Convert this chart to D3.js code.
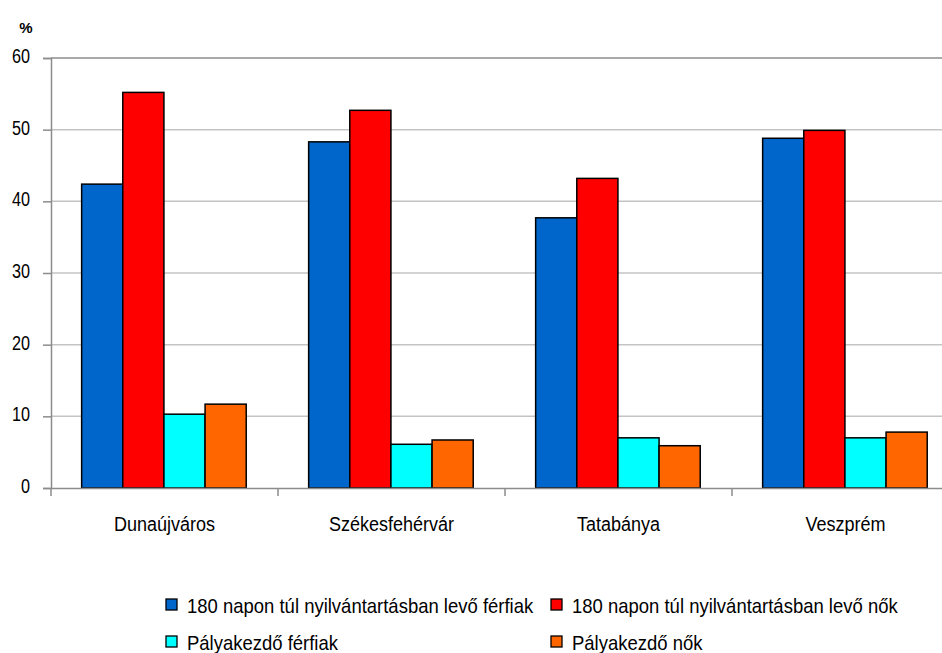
<!DOCTYPE html>
<html><head><meta charset="utf-8">
<script src="https://cdn.jsdelivr.net/npm/d3@7"></script>
<style>body{margin:0;background:#fff}svg{display:block}text{font-family:"Liberation Sans",Arial,sans-serif;fill:#000}</style>
</head><body><svg id="c" width="942" height="653"></svg>
<script>
const categories = ["Dunaújváros", "Székesfehérvár", "Tatabánya", "Veszprém"];
const seriesNames = ["180 napon túl nyilvántartásban levő férfiak", "180 napon túl nyilvántartásban levő nők", "Pályakezdő férfiak", "Pályakezdő nők"];
const longMen   = [42.4, 48.3, 37.7, 48.8];
const longWomen = [55.2, 52.7, 43.2, 49.9];
const newMen    = [10.3, 6.1, 7.0, 7.0];
const newWomen  = [11.7, 6.7, 5.9, 7.8];
const yTicks = [0, 10, 20, 30, 40, 50, 60];
const colors = ["#0066CC", "#FF0000", "#00FFFF", "#FF6600"];
const seriesValues = [longMen, longWomen, newMen, newWomen];

const svg = d3.select("#c");
const L = 51, R = 959, T = 58, B = 488;
const x = d3.scaleBand().domain(categories).range([L, R]).paddingInner(0).paddingOuter(0);
const x1 = d3.scaleBand().domain(d3.range(4)).range([x.bandwidth()*0.135, x.bandwidth()*0.86]);
const y = d3.scaleLinear().domain([0, 60]).range([B, T]);

function squeeze(sel, factor) {
  sel.each(function() {
    const w = this.getComputedTextLength();
    this.setAttribute("textLength", w * factor);
    this.setAttribute("lengthAdjust", "spacingAndGlyphs");
  });
}

// gridlines
svg.append("g").selectAll("line").data(yTicks.filter(t => t > 0 && t < 60)).join("line")
  .attr("x1", L).attr("x2", R).attr("y1", d => y(d)).attr("y2", d => y(d))
  .attr("stroke", "#c4c4c4").attr("stroke-width", 1.5);
svg.append("line").attr("x1", L).attr("x2", R).attr("y1", y(60)).attr("y2", y(60))
  .attr("stroke", "#8c8c8c").attr("stroke-width", 1.5);

// y axis
const yAxis = svg.append("g").attr("transform", `translate(${L},0)`)
  .call(d3.axisLeft(y).tickValues(yTicks).tickSize(8).tickPadding(13).tickFormat(d3.format("d")));
yAxis.select(".domain").attr("stroke", "#8c8c8c").attr("stroke-width", 1.5);
yAxis.selectAll(".tick line").attr("stroke", "#8c8c8c").attr("stroke-width", 1.5);
yAxis.selectAll(".tick text").style("font-size", "20px").style("font-family", '"Liberation Sans",Arial,sans-serif')
  .attr("fill", "#000").attr("dy", "0.22em").call(squeeze, 0.81);

// bars
const groups = svg.append("g").selectAll("g").data(categories).join("g")
  .attr("transform", d => `translate(${x(d)},0)`);
groups.selectAll("rect").data((c, ci) => seriesValues.map((s, si) => ({si, v: s[ci]}))).join("rect")
  .attr("x", d => x1(d.si)).attr("width", x1.bandwidth())
  .attr("y", d => y(d.v)).attr("height", d => y(0) - y(d.v))
  .attr("fill", d => colors[d.si]).attr("stroke", "#000").attr("stroke-width", 1.5);

// x axis
const xAxis = svg.append("g").attr("transform", `translate(0,${B})`)
  .call(d3.axisBottom(x).tickSize(0).tickPadding(29));
xAxis.select(".domain").attr("stroke", "#8c8c8c").attr("stroke-width", 1.5);
xAxis.selectAll(".tick text").style("font-size", "20px").style("font-family", '"Liberation Sans",Arial,sans-serif')
  .attr("fill", "#000").call(squeeze, 0.9);
svg.append("g").selectAll("line").data(categories).join("line")
  .attr("x1", d => x(d)).attr("x2", d => x(d)).attr("y1", B).attr("y2", B + 8)
  .attr("stroke", "#8c8c8c").attr("stroke-width", 1.5);

// % label
svg.append("text").attr("x", 26).attr("y", 33).attr("text-anchor", "middle")
  .style("font-size", "15px").style("font-weight", "bold").text("%");

// legend
const legPos = [[166, 613], [551, 613], [166, 650], [551, 650]];
const leg = svg.append("g").selectAll("g").data(seriesNames).join("g")
  .attr("transform", (d, i) => `translate(${legPos[i][0]},${legPos[i][1]})`);
leg.append("rect").attr("x", 0).attr("y", -14).attr("width", 11).attr("height", 11)
  .attr("fill", (d, i) => colors[i]).attr("stroke", "#000").attr("stroke-width", 1.3);
leg.append("text").attr("x", 21).attr("y", 0)
  .style("font-size", "21px").text(d => d).call(squeeze, 0.88);
</script></body></html>
